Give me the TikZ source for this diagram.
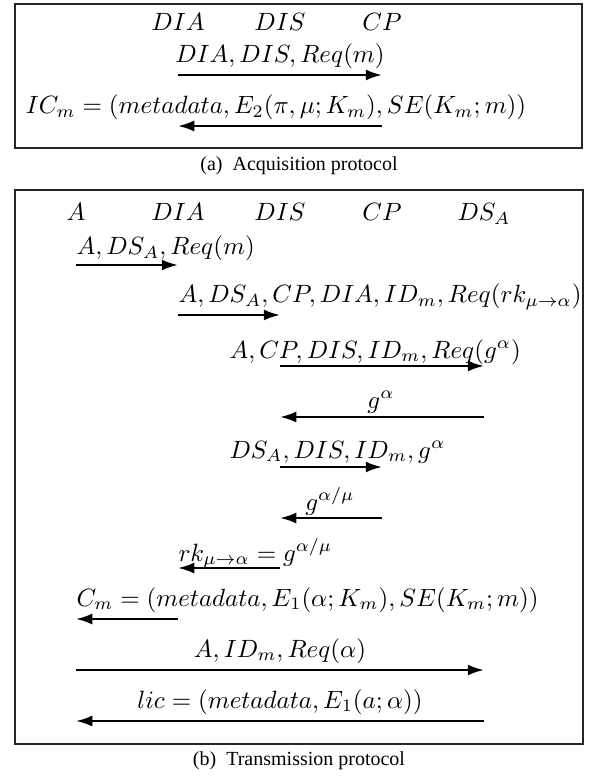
\documentclass[tikz,border=0pt]{standalone}
\usepackage{fontspec}
\newfontfamily\capfont{Liberation Serif}
\usetikzlibrary{arrows.meta}

\begin{document}
\begin{tikzpicture}[
    x=0.4pt, y=-0.4pt,
    msg/.style={line width=0.9pt, -{Latex[length=6.5pt,width=4.4pt]}},
    frame/.style={line width=0.7pt, black!85},
    party/.style={anchor=base, inner sep=0pt},
    lbl/.style={anchor=base, inner sep=0pt},
    lblw/.style={anchor=base west, inner sep=0pt},
    subcap/.style={font=\capfont\footnotesize, inner sep=0pt}
  ]
  \useasboundingbox (0,0) rectangle (589,777);

  % ---------------- (a) Acquisition protocol ----------------
  \draw[frame] (15,4) rectangle (582,148);
  \node[party] (aDIA) at (178,31) {$DIA$};
  \node[party] (aDIS) at (280,31) {$DIS$};
  \node[party] (aCP)  at (382,31) {$CP$};

  \coordinate (ra1) at (0,75);
  \coordinate (ra2) at (0,126);

  \node[lbl] (la1) at (280,63) {$DIA, DIS, Req(m)$};
  \draw[msg] (aDIA |- ra1) -- (aCP |- ra1);

  \node[lbl] (la2) at (276,114) {$IC_m = (metadata, E_2(\pi,\mu;K_m), SE(K_m;m))$};
  \draw[msg] (aCP |- ra2) -- (aDIA |- ra2);

  \node[subcap] (capa) at (299,166) {(a)\enspace Acquisition protocol};

  % ---------------- (b) Transmission protocol ----------------
  \draw[frame] (15,190) rectangle (583,744);
  \node[party] (bA)   at (76,221)  {$A$};
  \node[party] (bDIA) at (178,221) {$DIA$};
  \node[party] (bDIS) at (280,221) {$DIS$};
  \node[party] (bCP)  at (382,221) {$CP$};
  \node[party] (bDS)  at (484,221) {$DS_A$};

  \coordinate (rb1)  at (0,265);
  \coordinate (rb2)  at (0,315);
  \coordinate (rb3)  at (0,366);
  \coordinate (rb4)  at (0,417);
  \coordinate (rb5)  at (0,467);
  \coordinate (rb6)  at (0,518);
  \coordinate (rb7)  at (0,568);
  \coordinate (rb8)  at (0,619);
  \coordinate (rb9)  at (0,670);
  \coordinate (rb10) at (0,721);

  \node[lblw] (lb1) at (76,255) {$A, DS_A, Req(m)$};
  \draw[msg] (bA |- rb1) -- (bDIA |- rb1);

  \node[lblw] (lb2) at (178,303) {$A, DS_A, CP, DIA, ID_m, Req(rk_{\mu\rightarrow\alpha})$};
  \draw[msg] (bDIA |- rb2) -- (bDIS |- rb2);

  \node[lblw] (lb3) at (229,358) {$A, CP, DIS, ID_m, Req(g^\alpha)$};
  \draw[msg] (bDIS |- rb3) -- (bDS |- rb3);

  \node[lbl] (lb4) at (381,408) {$g^\alpha$};
  \draw[msg] (bDS |- rb4) -- (bDIS |- rb4);

  \node[lblw] (lb5) at (229,458) {$DS_A, DIS, ID_m, g^\alpha$};
  \draw[msg] (bDIS |- rb5) -- (bCP |- rb5);

  \node[lbl] (lb6) at (330,510) {$g^{\alpha/\mu}$};
  \draw[msg] (bCP |- rb6) -- (bDIS |- rb6);

  \node[lblw] (lb7) at (178,561) {$rk_{\mu\rightarrow\alpha} = g^{\alpha/\mu}$};
  \draw[msg] (bDIS |- rb7) -- (bDIA |- rb7);

  \node[lblw] (lb8) at (76,606) {$C_m = (metadata, E_1(\alpha;K_m), SE(K_m;m))$};
  \draw[msg] (bDIA |- rb8) -- (bA |- rb8);

  \node[lbl] (lb9) at (280,657) {$A, ID_m, Req(\alpha)$};
  \draw[msg] (bA |- rb9) -- (bDS |- rb9);

  \node[lbl] (lb10) at (280,708) {$lic = (metadata, E_1(a;\alpha))$};
  \draw[msg] (bDS |- rb10) -- (bA |- rb10);

  \node[subcap] (capb) at (299,761) {(b)\enspace Transmission protocol};
\end{tikzpicture}
\end{document}
